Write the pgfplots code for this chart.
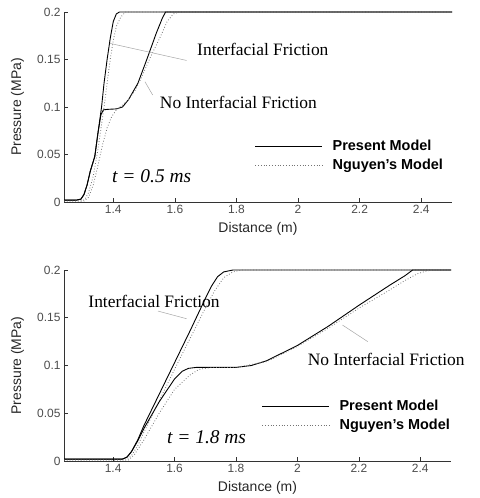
\documentclass[border=0pt]{standalone}
\usepackage{fontspec}
\setmainfont{Liberation Sans}
\newfontfamily\tms{Liberation Serif}
\usepackage{pgfplots}
\pgfplotsset{compat=1.18}

% one pixel of the reference = 1bp
\tikzset{
  pointer/.style={black!35, line width=0.5pt},
  note/.style={font=\tms\fontsize{17.5}{20}\selectfont, inner sep=0pt},
  when/.style={font=\tms\itshape\fontsize{19.5}{22}\selectfont, inner sep=0pt},
}
\pgfplotsset{
  present/.style={black, line width=0.9pt},
  nguyen/.style={black!55, dotted, line width=0.8pt},
  pres/.style={
    scale only axis,
    xmin=1.24, xmax=2.5,
    ymin=0, ymax=0.2,
    axis x line*=bottom,
    axis y line*=left,
    axis line style={black!80, line width=0.7pt},
    tick align=inside,
    major tick length=4bp,
    tick style={black!80, line width=0.6pt},
    xtick={1.4,1.6,1.8,2,2.2,2.4},
    ytick={0,0.05,0.1,0.15,0.2},
    yticklabels={0,0.05,0.1,0.15,0.2},
    xticklabels={1.4,1.6,1.8,2,2.2,2.4},
    ticklabel style={font=\fontsize{12}{14}\selectfont, text=black!70},
    /pgf/number format/assume math mode=true,
    xlabel={Distance (m)},
    ylabel={Pressure (MPa)},
    every axis x label/.style={at={(axis description cs:0.5,-0.142)}, anchor=center,
      font=\fontsize{14}{16}\selectfont, text=black!85},
    every axis y label/.style={at={(axis description cs:-0.12,0.5)}, rotate=90, anchor=center,
      font=\fontsize{14}{16}\selectfont, text=black!85},
    clip=false,
    legend image code/.code={\draw[#1] (0bp,0bp) -- (67bp,0bp);},
    legend cell align=left,
  },
}

\begin{document}
\begin{tikzpicture}
\path[use as bounding box] (0bp,0bp) rectangle (480bp,-498bp);

% ---------------- t = 0.5 ms ----------------
\begin{axis}[pres,
  width=388bp, height=190bp,
  at={(64bp,-202bp)}, anchor=south west,
  legend style={draw=none, fill=none, inner sep=0pt,
    at={(axis cs:1.859,0.0674)}, anchor=north west,
    font=\bfseries\fontsize{14.5}{17}\selectfont, row sep=3bp,
    /tikz/every odd column/.style={column sep=8bp}},
]
\addplot[present] coordinates {
(1.24,0.002) (1.28,0.002) (1.295,0.003) (1.305,0.008) (1.315,0.018)
(1.325,0.032) (1.34,0.048) (1.35,0.072) (1.362,0.1) (1.37,0.125)
(1.38,0.15) (1.39,0.172) (1.40,0.19) (1.41,0.198) (1.42,0.2) (2.5,0.2)};
\addlegendentry{Present Model}
\addplot[nguyen] coordinates {
(1.24,0.001) (1.30,0.001) (1.31,0.004) (1.32,0.01) (1.335,0.027)
(1.35,0.055) (1.36,0.077) (1.37,0.1) (1.38,0.125) (1.39,0.15)
(1.40,0.17) (1.41,0.185) (1.425,0.195) (1.44,0.2) (2.5,0.2)};
\addlegendentry{Nguyen's Model}
\addplot[present, forget plot] coordinates {
(1.24,0.002) (1.28,0.002) (1.295,0.003) (1.305,0.008) (1.315,0.018)
(1.325,0.032) (1.34,0.048) (1.35,0.072) (1.36,0.092) (1.368,0.097)
(1.38,0.0975) (1.41,0.098) (1.43,0.1) (1.44,0.104) (1.45,0.108)
(1.48,0.125) (1.51,0.151) (1.54,0.178) (1.56,0.194) (1.57,0.2) (2.5,0.2)};
\addplot[nguyen, forget plot] coordinates {
(1.24,0.001) (1.305,0.001) (1.32,0.005) (1.335,0.018) (1.35,0.038)
(1.365,0.06) (1.38,0.078) (1.395,0.09) (1.41,0.097) (1.43,0.102)
(1.45,0.108) (1.47,0.117) (1.49,0.13) (1.52,0.152) (1.55,0.172)
(1.575,0.19) (1.595,0.198) (1.615,0.2) (2.5,0.2)};

\draw[pointer] (axis cs:1.389,0.167) -- (axis cs:1.638,0.149);
\node[note, anchor=base west] at (axis cs:1.672,0.1537) {Interfacial Friction};
\draw[pointer] (axis cs:1.503,0.1266) -- (axis cs:1.528,0.1126);
\node[note, anchor=base west] at (axis cs:1.551,0.0986) {No Interfacial Friction};
\node[when, anchor=base west] at (axis cs:1.396,0.0203) {t = 0.5 ms};
\end{axis}

% ---------------- t = 1.8 ms ----------------
\begin{axis}[pres,
  width=387bp, height=191bp,
  at={(64bp,-461bp)}, anchor=south west,
  legend style={draw=none, fill=none, inner sep=0pt,
    at={(axis cs:1.883,0.0658)}, anchor=north west,
    font=\bfseries\fontsize{14.5}{17}\selectfont, row sep=3bp,
    /tikz/every odd column/.style={column sep=8bp}},
]
\addplot[present] coordinates {
(1.24,0.002) (1.43,0.002) (1.445,0.004) (1.46,0.01) (1.48,0.022)
(1.50,0.037) (1.55,0.07) (1.60,0.103) (1.65,0.136) (1.70,0.17)
(1.72,0.183) (1.74,0.193) (1.76,0.198) (1.79,0.2) (2.5,0.2)};
\addlegendentry{Present Model}
\addplot[nguyen] coordinates {
(1.24,0.001) (1.445,0.001) (1.46,0.006) (1.48,0.016) (1.50,0.03)
(1.55,0.063) (1.60,0.096) (1.65,0.128) (1.70,0.16) (1.73,0.178)
(1.76,0.192) (1.79,0.198) (1.82,0.2) (2.5,0.2)};
\addlegendentry{Nguyen's Model}
\addplot[present, forget plot] coordinates {
(1.24,0.002) (1.43,0.002) (1.445,0.004) (1.46,0.01) (1.48,0.021)
(1.50,0.034) (1.55,0.062) (1.60,0.086) (1.625,0.094) (1.645,0.097)
(1.67,0.098) (1.80,0.098) (1.85,0.1) (1.90,0.105) (2.0,0.121)
(2.1,0.141) (2.2,0.163) (2.3,0.184) (2.35,0.194) (2.375,0.2) (2.5,0.2)};
\addplot[nguyen, forget plot] coordinates {
(1.24,0.001) (1.45,0.001) (1.47,0.007) (1.50,0.022) (1.55,0.05)
(1.60,0.075) (1.65,0.09) (1.68,0.096) (1.72,0.098) (1.80,0.098)
(1.90,0.104) (2.0,0.12) (2.1,0.139) (2.2,0.16) (2.3,0.179)
(2.35,0.189) (2.39,0.196) (2.42,0.199) (2.44,0.2) (2.5,0.2)};

\draw[pointer] (axis cs:1.546,0.157) -- (axis cs:1.639,0.149);
\node[note, anchor=base west] at (axis cs:1.319,0.161) {Interfacial Friction};
\draw[pointer] (axis cs:2.147,0.1423) -- (axis cs:2.229,0.125);
\node[note, anchor=base west] at (axis cs:2.033,0.1004) {No Interfacial Friction};
\node[when, anchor=base west] at (axis cs:1.575,0.018) {t = 1.8 ms};
\end{axis}
\end{tikzpicture}
\end{document}
